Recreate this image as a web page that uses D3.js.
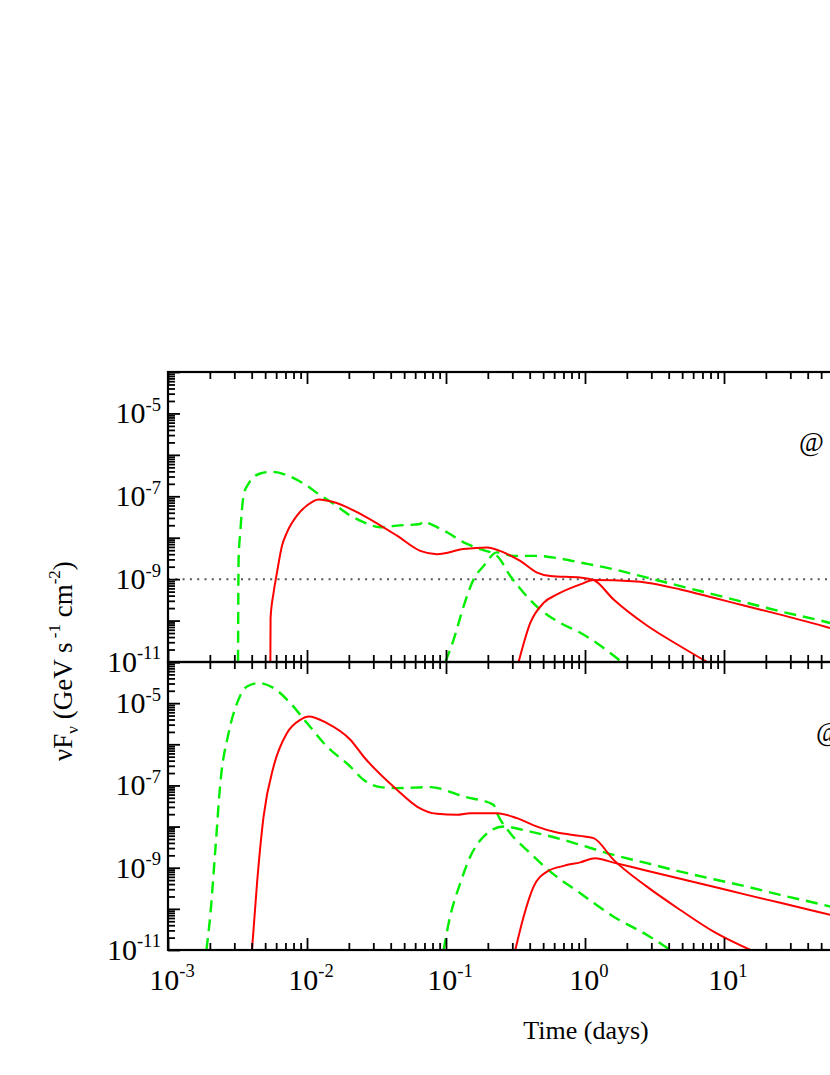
<!DOCTYPE html>
<html>
<head>
<meta charset="utf-8">
<script src="https://cdn.jsdelivr.net/npm/d3@7"></script>
<style>
  body { margin: 0; background: #fff; }
  text { font-family: "Liberation Serif", "Times New Roman", serif; fill: #000; }
</style>
</head>
<body>
<div id="chart"></div>
<script>
// tick labels (powers of ten) that fall inside the window
var xTickExps = [-3, -2, -1, 0, 1];
var yTickExps = [-5, -7, -9, -11];

// time in days, flux in GeV s^-1 cm^-2
// top panel
var topGreen1T = [3.19e-3, 3.22e-3, 3.31e-3, 3.50e-3, 3.80e-3, 4.61e-3, 5.60e-3, 7.18e-3, 9.45e-3, 1.25e-2,
  1.55e-2, 2.05e-2, 2.55e-2, 3.37e-2, 4.44e-2, 6.53e-2, 6.90e-2, 7.71e-2, 0.1016, 0.1338,
  0.1765, 0.2327, 0.290, 0.3617, 0.477, 0.664, 0.925, 1.22, 1.699, 1.95];
var topGreen1F = [1e-11, 3.03e-9, 1.35e-8, 1.05e-7, 2.03e-7, 3.55e-7, 3.90e-7, 3.23e-7, 2.03e-7, 1.05e-7,
  6.61e-8, 3.43e-8, 2.37e-8, 1.79e-8, 1.96e-8, 2.15e-8, 2.5e-8, 2.15e-8, 1.35e-8, 7.72e-9,
  5.31e-9, 3.65e-9, 1.19e-9, 4.70e-10, 1.84e-10, 8.75e-11, 5.08e-11, 2.85e-11, 1.23e-11, 8.5e-12];

var topRed1T = [5.45e-3, 5.47e-3, 5.75e-3, 6.08e-3, 6.61e-3, 7.18e-3, 8.47e-3, 1.0e-2, 1.21e-2, 1.55e-2,
  2.05e-2, 2.55e-2, 4.44e-2, 6.53e-2, 8.61e-2, 0.1338, 0.197, 0.2597, 0.342, 0.4516,
  0.563, 0.925, 1.153, 1.606, 2.79, 4.85, 7.55];
var topRed1F = [1e-11, 1.16e-10, 4.70e-10, 1.44e-9, 6.38e-9, 1.35e-8, 3.43e-8, 6.01e-8, 8.41e-8, 7.26e-8,
  4.99e-8, 3.43e-8, 1.12e-8, 4.83e-9, 4.01e-9, 5.31e-9, 5.83e-9, 4.42e-9, 2.75e-9, 1.44e-9,
  1.19e-9, 1.09e-9, 9.51e-10, 3.23e-10, 7.6e-11, 2.4e-11, 1.0e-11];

var topRed2T = [0.333, 0.404, 0.504, 0.629, 0.925, 1.153, 1.606, 2.79, 4.85, 8.42, 14.6, 25.4, 58.2, 68.7];
var topRed2F = [1e-11, 8.75e-11, 2.68e-10, 4.27e-10, 7.46e-10, 9.51e-10, 9.35e-10, 8.22e-10, 5.65e-10, 3.55e-10,
  2.21e-10, 1.39e-10, 6.61e-11, 5.68e-11];

var topGreen2T = [0.0989, 0.1134, 0.1338, 0.158, 0.1864, 0.2327, 0.3064, 0.4516, 0.702, 0.925,
  1.606, 2.79, 4.85, 8.42, 14.6, 25.4, 58.2, 68.7];
var topGreen2F = [1e-11, 3.43e-11, 2.21e-10, 9.89e-10, 2.08e-9, 4.42e-9, 3.65e-9, 3.65e-9, 3.03e-9, 2.52e-9,
  1.73e-9, 1.09e-9, 6.79e-10, 4.27e-10, 2.68e-10, 1.67e-10, 8.75e-11, 7.52e-11];

var sensitivity = 1e-9;

// bottom panel
var botGreen1T = [1.89e-3, 2.01e-3, 2.19e-3, 2.38e-3, 2.73e-3, 3.14e-3, 3.70e-3, 4.49e-3, 5.75e-3, 7.59e-3,
  1.0e-2, 1.39e-2, 2.05e-2, 2.55e-2, 3.37e-2, 4.44e-2, 7.71e-2, 0.1338, 0.220, 0.2327,
  0.290, 0.404, 0.563, 0.925, 1.606, 2.79, 4.11];
var botGreen1F = [1e-11, 6.46e-11, 2.71e-9, 1.14e-7, 1.88e-6, 1.0e-5, 2.55e-5, 3.08e-5, 2.33e-5, 1.0e-5,
  3.28e-6, 8.83e-7, 2.88e-7, 1.37e-7, 9.10e-8, 8.59e-8, 9.10e-8, 5.37e-8, 3.37e-8, 2.12e-8,
  6.90e-9, 2.25e-9, 8.04e-10, 2.40e-10, 6.46e-11, 2.32e-11, 1e-11];

var botRed1T = [4.02e-3, 4.37e-3, 4.87e-3, 5.75e-3, 7.18e-3, 8.95e-3, 1.03e-2, 1.39e-2, 2.05e-2, 2.55e-2,
  4.44e-2, 6.18e-2, 8.61e-2, 0.120, 0.1495, 0.2327, 0.324, 0.4516, 0.629, 0.925,
  1.153, 1.606, 2.79, 4.85, 8.42, 15.5];
var botRed1F = [1e-11, 4.20e-10, 1.75e-8, 2.88e-7, 1.88e-6, 3.94e-6, 4.74e-6, 3.28e-6, 1.29e-6, 5.05e-7,
  7.82e-8, 3.07e-8, 2.04e-8, 1.93e-8, 2.12e-8, 2.12e-8, 1.60e-8, 1.0e-8, 7.14e-9, 5.94e-9,
  5.23e-9, 1.55e-9, 3.47e-10, 9.39e-11, 2.79e-11, 1e-11];

var botRed2T = [0.315, 0.3617, 0.4268, 0.533, 0.702, 0.925, 1.186, 1.606, 2.79, 4.85, 8.42, 14.6, 25.4, 58.2, 68.7];
var botRed2F = [1e-11, 6.46e-11, 3.47e-10, 8.04e-10, 1.11e-9, 1.35e-9, 1.70e-9, 1.33e-9, 8.45e-10, 5.39e-10,
  3.45e-10, 2.19e-10, 1.40e-10, 7.14e-11, 6.24e-11];

var botGreen2T = [0.0961, 0.107, 0.1267, 0.1495, 0.1864, 0.2597, 0.404, 0.702, 0.925, 1.606,
  2.79, 4.85, 8.42, 14.6, 25.4, 58.2, 68.7];
var botGreen2F = [1e-11, 6.46e-11, 4.20e-10, 1.86e-9, 5.71e-9, 1.0e-8, 7.55e-9, 4.74e-9, 3.59e-9, 2.05e-9,
  1.29e-9, 8.04e-10, 5.25e-10, 3.47e-10, 2.18e-10, 1.13e-10, 9.67e-11];

// chart parameters
var svgWidth = 830;
var svgHeight = 1075;
var left = 168, right = 1002;

var svg = d3.select("#chart")
  .append("svg")
  .attr("width", svgWidth)
  .attr("height", svgHeight);

var x = d3.scaleLog().domain([1e-3, 1e3]).range([left, right]);

var xMajor = [], xMinor = [];
for (var e = -3; e <= 3; e++) {
  xMajor.push(Math.pow(10, e));
  if (e < 3) for (var k = 2; k <= 9; k++) xMinor.push(k * Math.pow(10, e));
}
var yMajor = [], yMinor = [];
for (var e = -11; e <= -4; e++) {
  yMajor.push(Math.pow(10, e));
  if (e < -4) for (var k = 2; k <= 9; k++) yMinor.push(k * Math.pow(10, e));
}

function zip(ts, fs) {
  return ts.map(function(t, i) { return { t: t, f: fs[i] }; });
}

var panels = [
  { top: 372, bottom: 662, label: "@", labelX: 799, labelY: 451,
    series: [
      { data: zip(topGreen1T, topGreen1F), color: "#00ee00", dash: true },
      { data: zip(topGreen2T, topGreen2F), color: "#00ee00", dash: true },
      { data: zip(topRed1T, topRed1F), color: "#ff0000", dash: false },
      { data: zip(topRed2T, topRed2F), color: "#ff0000", dash: false }
    ],
    hline: sensitivity },
  { top: 662, bottom: 950, label: "@", labelX: 816, labelY: 741,
    series: [
      { data: zip(botGreen1T, botGreen1F), color: "#00ee00", dash: true },
      { data: zip(botGreen2T, botGreen2F), color: "#00ee00", dash: true },
      { data: zip(botRed1T, botRed1F), color: "#ff0000", dash: false },
      { data: zip(botRed2T, botRed2F), color: "#ff0000", dash: false }
    ],
    hline: null }
];

function powLabel(g, exp, px, py, anchor, size) {
  var t = g.append("text")
    .attr("x", px)
    .attr("y", py)
    .attr("text-anchor", anchor)
    .style("font-size", size + "px");
  t.append("tspan").text("10");
  t.append("tspan")
    .attr("dy", -size * 0.42)
    .style("font-size", (size * 0.62) + "px")
    .text(exp);
}

function drawTicks(g, axis, values, size) {
  g.call(axis.tickValues(values).tickSize(size).tickFormat(""));
  g.select(".domain").remove();
  g.selectAll(".tick line").attr("stroke", "#000").attr("stroke-width", 1.8);
}

panels.forEach(function(p, i) {
  var y = d3.scaleLog().domain([1e-11, 1e-4]).range([p.bottom, p.top]);

  svg.append("clipPath").attr("id", "clip" + i)
    .append("rect")
    .attr("x", left).attr("y", p.top)
    .attr("width", right - left).attr("height", p.bottom - p.top);

  var plot = svg.append("g").attr("clip-path", "url(#clip" + i + ")");

  if (p.hline) {
    plot.append("line")
      .attr("x1", left).attr("x2", right)
      .attr("y1", y(p.hline)).attr("y2", y(p.hline))
      .attr("stroke", "#555")
      .attr("stroke-width", 2)
      .attr("stroke-dasharray", "2,5.3");
  }

  var line = d3.line()
    .x(function(d) { return x(d.t); })
    .y(function(d) { return y(d.f); })
    .curve(d3.curveMonotoneX);

  p.series.forEach(function(s) {
    plot.append("path")
      .datum(s.data)
      .attr("d", line)
      .attr("fill", "none")
      .attr("stroke", s.color)
      .attr("stroke-width", s.dash ? 2.4 : 2)
      .attr("stroke-dasharray", s.dash ? "12,7" : null);
  });

  // inward ticks
  drawTicks(svg.append("g").attr("transform", "translate(0," + p.bottom + ")"), d3.axisTop(x), xMajor, 12);
  drawTicks(svg.append("g").attr("transform", "translate(0," + p.bottom + ")"), d3.axisTop(x), xMinor, 7);
  drawTicks(svg.append("g").attr("transform", "translate(0," + p.top + ")"), d3.axisBottom(x), xMajor, 12);
  drawTicks(svg.append("g").attr("transform", "translate(0," + p.top + ")"), d3.axisBottom(x), xMinor, 7);
  drawTicks(svg.append("g").attr("transform", "translate(" + left + ",0)"), d3.axisRight(y), yMajor, 12);
  drawTicks(svg.append("g").attr("transform", "translate(" + left + ",0)"), d3.axisRight(y), yMinor, 7);

  // frame
  svg.append("rect")
    .attr("x", left).attr("y", p.top)
    .attr("width", right - left).attr("height", p.bottom - p.top)
    .attr("fill", "none")
    .attr("stroke", "#000")
    .attr("stroke-width", 2.2);

  // y tick labels
  yTickExps.forEach(function(ex) {
    powLabel(svg, String(ex), 161, y(Math.pow(10, ex)) + 10, "end", 30);
  });

  svg.append("text")
    .attr("x", p.labelX)
    .attr("y", p.labelY)
    .style("font-size", "27px")
    .text(p.label);
});

// x tick labels
xTickExps.forEach(function(ex) {
  powLabel(svg, String(ex), x(Math.pow(10, ex)) + 4, 990, "middle", 30);
});

// axis titles
svg.append("text")
  .attr("x", 586)
  .attr("y", 1039)
  .attr("text-anchor", "middle")
  .style("font-size", "26px")
  .text("Time (days)");

var yTitle = svg.append("text")
  .attr("transform", "translate(72,661) rotate(-90)")
  .attr("text-anchor", "middle")
  .style("font-size", "27px");
yTitle.append("tspan").text("\u03bdF");
yTitle.append("tspan").attr("dy", 6).style("font-size", "17px").text("\u03bd");
yTitle.append("tspan").attr("dy", -6).text(" (GeV s");
yTitle.append("tspan").attr("dy", -12).style("font-size", "17px").text(" -1");
yTitle.append("tspan").attr("dy", 12).text("  cm");
yTitle.append("tspan").attr("dy", -12).style("font-size", "17px").text("-2");
yTitle.append("tspan").attr("dy", 12).text(")");
</script>
</body>
</html>
